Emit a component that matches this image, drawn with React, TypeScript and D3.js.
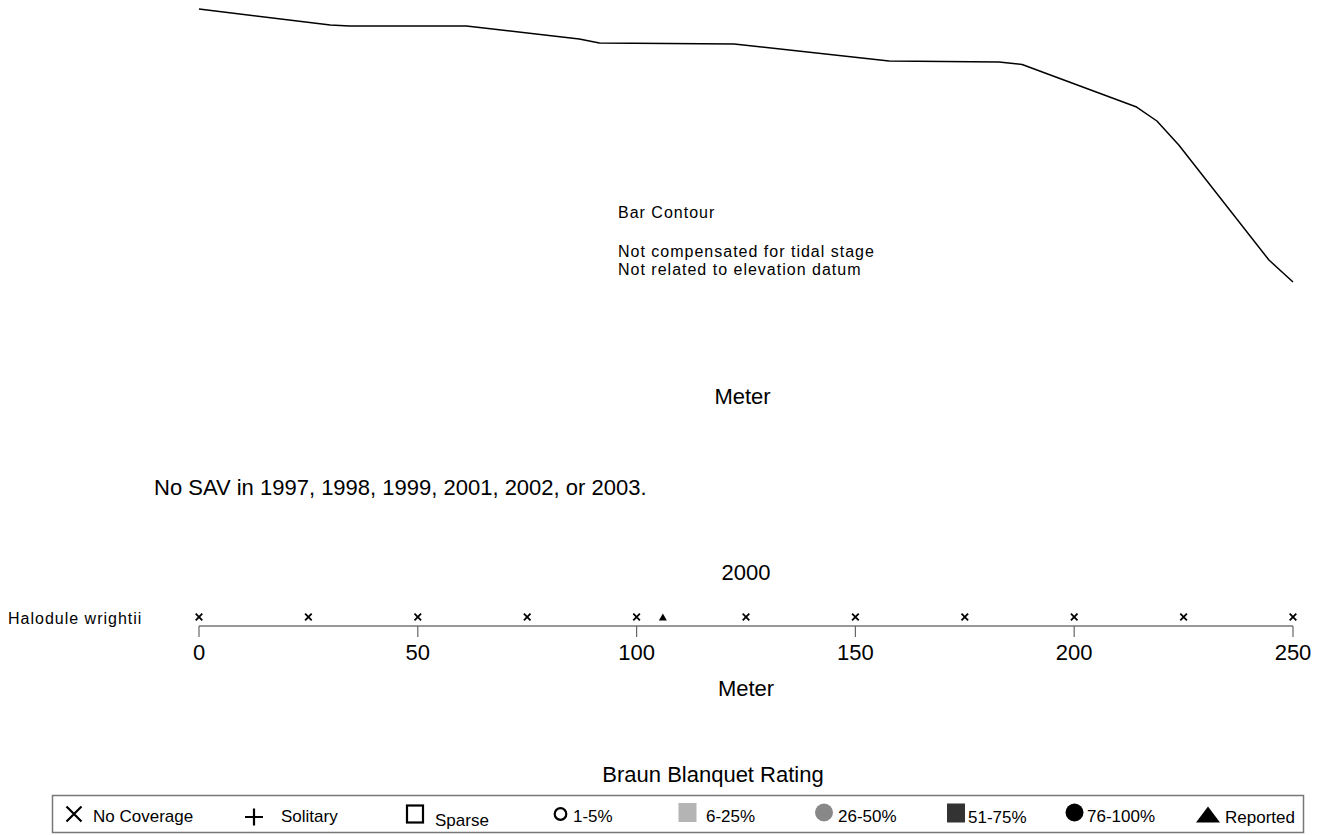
import React from 'react';
import * as d3 from 'd3';

// Bar contour profile (meters along transect, relative elevation)
const contourMeters = [0, 30, 34.4, 61.1, 86.9, 91.5, 122.3, 157.7, 182.8, 188.1, 214.1, 218.9, 223.9, 244.5, 250];
const contourElev = [0, -1.6, -1.7, -1.7, -3.0, -3.4, -3.5, -5.2, -5.3, -5.55, -9.77, -11.2, -13.6, -25.1, -27.3];

// 2000 survey, Halodule wrightii
const obsMeters = [0, 25, 50, 75, 100, 106, 125, 150, 175, 200, 225, 250];
const obsRating = ['none', 'none', 'none', 'none', 'none', 'reported', 'none', 'none', 'none', 'none', 'none', 'none'];

const axisTicks = [0, 50, 100, 150, 200, 250];

const legendKeys = ['none', 'solitary', 'sparse', 'r1', 'r6', 'r26', 'r51', 'r76', 'reported'];
const legendLabels = ['No Coverage', 'Solitary', 'Sparse', '1-5%', '6-25%', '26-50%', '51-75%', '76-100%', 'Reported'];

const FONT = '"Liberation Sans", Arial, Helvetica, sans-serif';
const W = 1327;
const H = 835;

const x = d3.scaleLinear().domain([0, 250]).range([199, 1293]);
const yContour = d3.scaleLinear().domain([0, -27.3]).range([9, 282]);

const contourLine = d3
  .line<number>()
  .x((_, i) => x(contourMeters[i]))
  .y((d) => yContour(d));

const triPath = (w: number, h: number) => `M0,${-h / 2}L${w / 2},${h / 2}L${-w / 2},${h / 2}Z`;

const Cross = ({ cx, cy, s, sw }: { cx: number; cy: number; s: number; sw: number }) => (
  <path
    d={`M${cx - s},${cy - s}L${cx + s},${cy + s}M${cx - s},${cy + s}L${cx + s},${cy - s}`}
    stroke="#000"
    strokeWidth={sw}
    fill="none"
  />
);

// legend symbol layout
const legendSymX = [74, 254, 415, 560.5, 687.5, 824, 956, 1074.5, 1208];
const legendTextX = [93, 281, 435, 573, 706, 838, 968, 1087, 1225];
const legendTextY = [822, 822, 826, 822, 822, 822, 823, 822, 823];

const LegendSymbol = ({ k, cx, cy }: { k: string; cx: number; cy: number }) => {
  switch (k) {
    case 'none':
      return <Cross cx={cx} cy={cy} s={7.5} sw={2.2} />;
    case 'solitary':
      return (
        <path d={`M${cx - 9},${cy + 3}L${cx + 9},${cy + 3}M${cx},${cy - 5.5}L${cx},${cy + 11.5}`} stroke="#000" strokeWidth={2.2} />
      );
    case 'sparse':
      return <rect x={cx - 8} y={cy - 8.5} width={16} height={17} fill="none" stroke="#000" strokeWidth={2.2} />;
    case 'r1':
      return <circle cx={cx} cy={cy} r={5.8} fill="none" stroke="#000" strokeWidth={2.2} />;
    case 'r6':
      return <rect x={cx - 9} y={cy - 11} width={18} height={19} fill="#b4b4b4" />;
    case 'r26':
      return <circle cx={cx} cy={cy - 1.5} r={9} fill="#888888" />;
    case 'r51':
      return <rect x={cx - 9} y={cy - 10.5} width={18} height={19} fill="#333333" />;
    case 'r76':
      return <circle cx={cx} cy={cy - 1.5} r={9} fill="#000" />;
    default:
      return <path d={triPath(24, 16)} transform={`translate(${cx},${cy + 0.5})`} fill="#000" />;
  }
};

export default function App() {
  const axisY = 626;
  const markY = 617;
  return (
    <svg
      width={W}
      height={H}
      viewBox={`0 0 ${W} ${H}`}
      style={{ position: 'absolute', left: 0, top: 0, background: '#fff' }}
      fontFamily={FONT}
    >
      <rect width={W} height={H} fill="#fff" />

      {/* contour */}
      <path d={contourLine(contourElev) || ''} fill="none" stroke="#000" strokeWidth={1.5} strokeLinejoin="round" />

      <g fontSize={16} letterSpacing={1} fill="#000">
        <text x={618} y={218}>Bar Contour</text>
        <text x={618} y={257}>Not compensated for tidal stage</text>
        <text x={618} y={275}>Not related to elevation datum</text>
      </g>

      <text x={742.5} y={404} fontSize={22} textAnchor="middle">Meter</text>

      <text x={154} y={495} fontSize={22}>No SAV in 1997, 1998, 1999, 2001, 2002, or 2003.</text>

      <text x={746} y={580} fontSize={22} textAnchor="middle">2000</text>

      <text x={8} y={624} fontSize={16} letterSpacing={1}>Halodule wrightii</text>

      {/* transect axis */}
      <line x1={x(0)} x2={x(250)} y1={axisY} y2={axisY} stroke="#333" strokeWidth={1.2} />
      {axisTicks.map((t) => (
        <g key={t}>
          <line x1={x(t)} x2={x(t)} y1={axisY} y2={axisY + 11} stroke="#666" strokeWidth={1.2} />
          <text x={x(t)} y={660} fontSize={22} textAnchor="middle">{t}</text>
        </g>
      ))}

      {obsMeters.map((m, i) =>
        obsRating[i] === 'reported' ? (
          <path key={i} d={triPath(8, 7)} transform={`translate(${x(m)},${markY})`} fill="#000" />
        ) : (
          <Cross key={i} cx={x(m)} cy={markY} s={3.3} sw={1.8} />
        )
      )}

      <text x={746} y={696} fontSize={22} textAnchor="middle">Meter</text>

      {/* legend */}
      <text x={713} y={782} fontSize={22} textAnchor="middle">Braun Blanquet Rating</text>
      <rect x={52.5} y={795.5} width={1251} height={37} fill="none" stroke="#777" strokeWidth={1.5} />
      {legendKeys.map((k, i) => (
        <g key={k}>
          <LegendSymbol k={k} cx={legendSymX[i]} cy={814} />
          <text x={legendTextX[i]} y={legendTextY[i]} fontSize={17}>{legendLabels[i]}</text>
        </g>
      ))}
    </svg>
  );
}
